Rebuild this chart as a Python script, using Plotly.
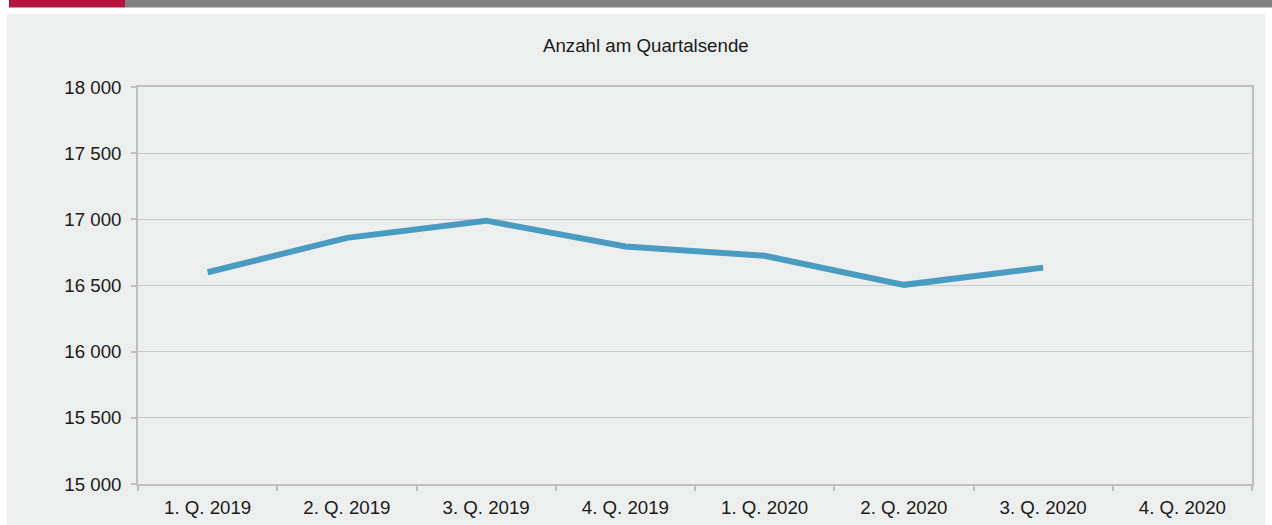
import plotly.graph_objects as go

categories = ["1. Q. 2019", "2. Q. 2019", "3. Q. 2019", "4. Q. 2019",
              "1. Q. 2020", "2. Q. 2020", "3. Q. 2020", "4. Q. 2020"]
values = [16600, 16860, 16990, 16795, 16725, 16505, 16635, None]
y_ticks = [15000, 15500, 16000, 16500, 17000, 17500, 18000]
title_text = "Anzahl am Quartalsende"

W, H = 1272, 525
L, R, T, B = 138, 20, 87, 41
pw, ph = W - L - R, H - T - B

def px_x(x):
    return (x - L) / pw

def px_y(y):
    return (H - B - y) / ph

fig = go.Figure()
fig.add_trace(go.Scatter(
    x=categories, y=values, mode="lines",
    line=dict(color="#4a9bc2", width=6),
    connectgaps=False, hoverinfo="skip", showlegend=False,
))

shapes = [
    dict(type="rect", xref="paper", yref="paper", layer="below",
         x0=px_x(7), x1=px_x(1265), y0=px_y(14), y1=px_y(525),
         fillcolor="#edeeee", line=dict(width=0)),
    dict(type="rect", xref="paper", yref="paper",
         x0=px_x(125), x1=px_x(1272), y0=px_y(0), y1=px_y(7.5),
         fillcolor="#808080", line=dict(width=0)),
    dict(type="rect", xref="paper", yref="paper",
         x0=px_x(9), x1=px_x(125), y0=px_y(0), y1=px_y(7.5),
         fillcolor="#b5143f", line=dict(width=0)),
]

FS = 18.7
fig.update_layout(
    width=W, height=H,
    margin=dict(l=L, r=R, t=T, b=B, pad=0, autoexpand=False),
    paper_bgcolor="white", plot_bgcolor="#edeeee",
    separators=", ",
    font=dict(family="Liberation Sans, Arial, sans-serif", size=FS, color="#1a1a1a"),
    shapes=shapes,
    annotations=[dict(text=title_text, xref="paper", yref="paper",
                      x=px_x(645.5), y=px_y(45), xanchor="center", yanchor="middle",
                      showarrow=False, font=dict(size=FS, color="#1a1a1a"))],
)
fig.update_xaxes(
    type="category", range=[-0.5, 7.5], tickson="boundaries",
    ticks="outside", ticklen=5, tickcolor="#bfbfbf", tickwidth=1.5,
    showline=True, linecolor="#bfbfbf", linewidth=1.5, mirror=True,
    showgrid=False, fixedrange=True, ticklabelstandoff=6, automargin=False,
)
fig.update_yaxes(
    range=[15000, 18000], tickvals=y_ticks, tickformat=",d",
    ticks="outside", ticklen=5, tickcolor="#bfbfbf", tickwidth=1.5,
    showline=True, linecolor="#bfbfbf", linewidth=1.5, mirror=True,
    showgrid=True, gridcolor="#c8c8c8", gridwidth=1,
    zeroline=False, ticklabelstandoff=6, fixedrange=True, automargin=False,
)

fig.write_html("out.html", config={"displayModeBar": False},
               post_script="document.body.style.margin='0';document.body.style.overflow='hidden';")
